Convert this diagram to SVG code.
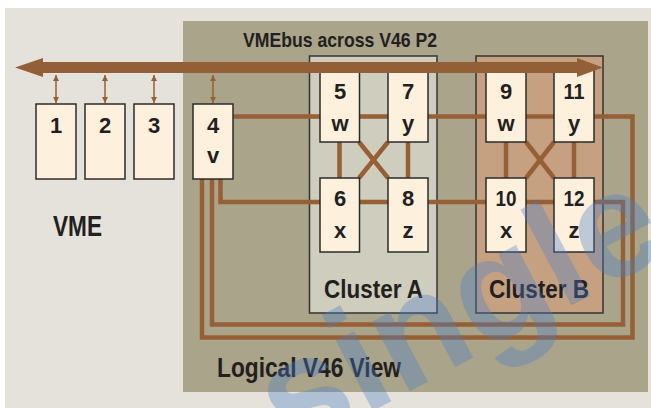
<svg xmlns="http://www.w3.org/2000/svg" width="651" height="408" viewBox="0 0 651 408">
<defs>
<style>
.t{font-family:"Liberation Sans",Arial,sans-serif;font-weight:bold;fill:#231f20}
.d{font-size:22px;text-anchor:middle}
.box{fill:#fdf1de;stroke:#2b2b2b;stroke-width:1.5}
.c{fill:none;stroke:#965f35;stroke-width:4.5}
.s{stroke:#965f35;stroke-width:1.5;fill:none;marker-start:url(#ah);marker-end:url(#ah)}
</style>
<marker id="ah" viewBox="0 0 8 8" refX="8" refY="4" markerWidth="6" markerHeight="6" markerUnits="userSpaceOnUse" orient="auto-start-reverse">
<path d="M0,0 L8,4 L0,8 Z" fill="#965f35"/>
</marker>
</defs>
<rect x="0" y="0" width="651" height="408" fill="#ffffff"/>
<rect x="5" y="8" width="646" height="400" fill="#e5e2db"/>
<rect x="183" y="21" width="465" height="371" fill="#a9a48a"/>
<g id="clusterA">
<rect x="309.5" y="56" width="127.5" height="257" fill="#cfcdbd" stroke="#333" stroke-width="1.5"/>
<text class="t" x="324" y="298" font-size="26" textLength="99" lengthAdjust="spacingAndGlyphs">Cluster A</text>
</g>
<g id="clusterB">
<rect x="476" y="56" width="127" height="257" fill="#c5a181" stroke="#333" stroke-width="1.5"/>
<text class="t" x="489" y="298" font-size="26" textLength="100" lengthAdjust="spacingAndGlyphs">Cluster B</text>
</g>
<g id="connectors">
<path class="c" d="M233,116.5 H632.5 V337.5 H202 V179"/>
<path class="c" d="M220.5,179 V202 H623 V324.5 H212 V179"/>
<path class="c" d="M339.5,142 V178 M408,142 V178 M506,142 V178 M574,142 V178"/>
<path class="c" d="M359,142 L388,178 M388,142 L359,178 M526,142 L554,178 M554,142 L526,178"/>
<line class="s" x1="56" y1="75" x2="56" y2="103"/>
<line class="s" x1="105" y1="75" x2="105" y2="103"/>
<line class="s" x1="154" y1="75" x2="154" y2="103"/>
<line class="s" x1="213" y1="75" x2="213" y2="103"/>
</g>
<g id="n5"><rect class="box" x="320" y="66" width="39.5" height="76"/><text class="t d" x="340" y="99">5</text><text class="t d" x="340" y="131">w</text></g>
<g id="n7"><rect class="box" x="388" y="66" width="40" height="76"/><text class="t d" x="408" y="99">7</text><text class="t d" x="408" y="131">y</text></g>
<g id="n9"><rect class="box" x="486" y="66" width="40" height="76"/><text class="t d" x="506" y="99">9</text><text class="t d" x="506" y="131">w</text></g>
<g id="n11"><rect class="box" x="554" y="66" width="40" height="76"/><text class="t d" x="574" y="99" textLength="21" lengthAdjust="spacingAndGlyphs">11</text><text class="t d" x="574" y="131">y</text></g>
<g id="n6"><rect class="box" x="320" y="178" width="39.5" height="74"/><text class="t d" x="340" y="206">6</text><text class="t d" x="340" y="238">x</text></g>
<g id="n8"><rect class="box" x="388" y="178" width="40" height="74"/><text class="t d" x="408" y="206">8</text><text class="t d" x="408" y="238">z</text></g>
<g id="n10"><rect class="box" x="486" y="178" width="40" height="74"/><text class="t d" x="506" y="206" textLength="21" lengthAdjust="spacingAndGlyphs">10</text><text class="t d" x="506" y="238">x</text></g>
<g id="n12"><rect class="box" x="554" y="178" width="40" height="74"/><text class="t d" x="574" y="206" textLength="21" lengthAdjust="spacingAndGlyphs">12</text><text class="t d" x="574" y="238">z</text></g>
<g id="n1"><rect class="box" x="36" y="104" width="40" height="75"/><text class="t d" x="56" y="133">1</text></g>
<g id="n2"><rect class="box" x="85" y="104" width="40" height="75"/><text class="t d" x="105" y="133">2</text></g>
<g id="n3"><rect class="box" x="134" y="104" width="40" height="75"/><text class="t d" x="154" y="133">3</text></g>
<g id="n4"><rect class="box" x="193" y="104" width="40" height="75"/><text class="t d" x="213" y="133">4</text><text class="t d" x="213" y="163">v</text></g>
<g id="bus">
<path d="M15,67.5 L43,58 L43,62 L577,62 L577,58 L603,67.5 L577,77 L577,73 L43,73 L43,77 Z" fill="#935f36"/>
</g>
<text class="t" x="243" y="47" font-size="21" textLength="194" lengthAdjust="spacingAndGlyphs">VMEbus across V46 P2</text>
<text class="t" x="53" y="236" font-size="29" textLength="49" lengthAdjust="spacingAndGlyphs">VME</text>
<text class="t" x="217" y="377" font-size="28" textLength="184" lengthAdjust="spacingAndGlyphs">Logical V46 View</text>
<text x="290" y="455" transform="rotate(-28 290 455)" font-family="'Liberation Sans',Arial,sans-serif" font-weight="bold" font-size="150" fill="#4a7fc8" fill-opacity="0.35">single</text>
</svg>
